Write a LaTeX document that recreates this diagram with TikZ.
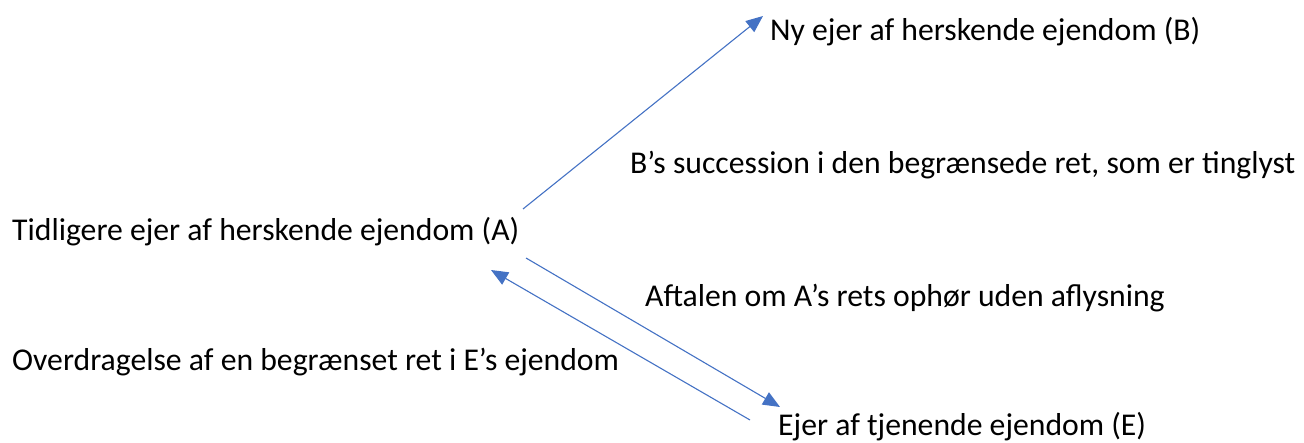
\documentclass[tikz,border=0pt]{standalone}
\usepackage{fontspec}
\setmainfont{Carlito}
\usetikzlibrary{arrows.meta}
\usetikzlibrary{positioning}
\definecolor{officeblue}{HTML}{4472C4}
\tikzset{pil/.style = {draw=officeblue, line width=1.1pt,
                       -{Triangle[length=17pt,width=14pt]}}}
\tikzset{txt/.style = {anchor=west, inner sep=0, font=\fontsize{31.7}{36}\selectfont}}

\begin{document}
\begin{tikzpicture}[x=1pt, y=-1pt]
      \useasboundingbox (0, 0) rectangle (1304, 443);

      \node [txt] (A) at (12, 232) {Tidligere ejer af herskende ejendom (A)};
      \node [txt] (B) at (770, 32) {Ny ejer af herskende ejendom (B)};
      \node [txt] (E) at (778, 427) {Ejer af tjenende ejendom (E)};

      \node [txt] (succ) at (630, 165) {B’s succession i den begrænsede ret, som er tinglyst};
      \node [txt] (aft) at (645, 298) {Aftalen om A’s rets ophør uden aflysning};
      \node [txt] (overd) at (12, 362) {Overdragelse af en begrænset ret i E’s ejendom};

      \coordinate (a1) at (523, 209);
      \coordinate (b1) at (763, 16);
      \coordinate (a2) at (526, 258);
      \coordinate (e2) at (780, 407);
      \coordinate (e3) at (750, 420);
      \coordinate (a3) at (491, 270);

      \draw [pil] (a1) -- (b1);
      \draw [pil] (a2) -- (e2);
      \draw [pil] (e3) -- (a3);
    \end{tikzpicture}
\end{document}
